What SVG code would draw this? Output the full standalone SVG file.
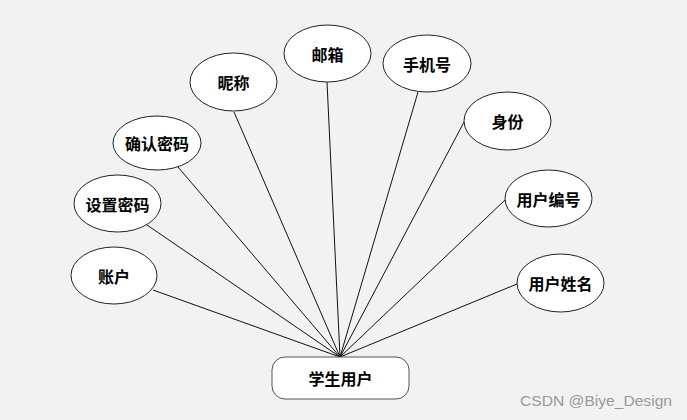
<svg xmlns="http://www.w3.org/2000/svg" width="687" height="420" viewBox="0 0 687 420">
<style>
.bg{fill:#f2f2f2}
.attr ellipse{fill:#ffffff;stroke:#222;stroke-width:1}
.ent rect{fill:#ffffff;stroke:#555;stroke-width:1}
.lbl{font-family:"Noto Sans CJK SC","Noto Sans",sans-serif;font-size:16px;font-weight:bold;fill:#000;text-anchor:middle;dominant-baseline:central}
.conn line{stroke:#111;stroke-width:1}
.wm{font-family:"Liberation Sans","DejaVu Sans",sans-serif;font-size:15px;fill:#999}
</style>
<rect class="bg" x="0" y="0" width="687" height="420"/>
<g id="connectors" class="conn">
<line x1="153" y1="290" x2="340" y2="357"/>
<line x1="147" y1="225" x2="340" y2="357"/>
<line x1="178" y1="167" x2="340" y2="357"/>
<line x1="234" y1="112" x2="340" y2="357"/>
<line x1="327" y1="82" x2="340" y2="357"/>
<line x1="418" y1="92" x2="340" y2="357"/>
<line x1="464" y1="122" x2="340" y2="357"/>
<line x1="505" y1="200" x2="340" y2="357"/>
<line x1="517" y1="284" x2="340" y2="357"/>
</g>
<g id="node-youxiang" class="attr"><ellipse cx="327.5" cy="53.5" rx="43.5" ry="28.5"/><text class="lbl" x="327.5" y="53.5">邮箱</text></g>
<g id="node-nicheng" class="attr"><ellipse cx="233.5" cy="82" rx="43.5" ry="29"/><text class="lbl" x="233.5" y="82">昵称</text></g>
<g id="node-querenmima" class="attr"><ellipse cx="157" cy="143" rx="44" ry="27"/><text class="lbl" x="157" y="143">确认密码</text></g>
<g id="node-shezhimima" class="attr"><ellipse cx="117.5" cy="203.5" rx="43.5" ry="28.5"/><text class="lbl" x="117.5" y="203.5">设置密码</text></g>
<g id="node-zhanghu" class="attr"><ellipse cx="114" cy="275.5" rx="43" ry="28.5"/><text class="lbl" x="114" y="275.5">账户</text></g>
<g id="node-shoujihao" class="attr"><ellipse cx="427" cy="63.5" rx="44" ry="28.5"/><text class="lbl" x="427" y="63.5">手机号</text></g>
<g id="node-shenfen" class="attr"><ellipse cx="507.5" cy="121" rx="43.5" ry="29"/><text class="lbl" x="507.5" y="121">身份</text></g>
<g id="node-yonghubianhao" class="attr"><ellipse cx="548.5" cy="198.5" rx="43.5" ry="28.5"/><text class="lbl" x="548.5" y="198.5">用户编号</text></g>
<g id="node-yonghuxingming" class="attr"><ellipse cx="560.5" cy="283" rx="43.5" ry="29"/><text class="lbl" x="560.5" y="283">用户姓名</text></g>
<g id="node-xueshengyonghu" class="ent"><rect x="272" y="357" width="137" height="42" rx="13" ry="13"/><text class="lbl" x="340.5" y="378">学生用户</text></g>
<text class="wm" x="520" y="406" textLength="152" lengthAdjust="spacingAndGlyphs">CSDN @Biye_Design</text>
</svg>
